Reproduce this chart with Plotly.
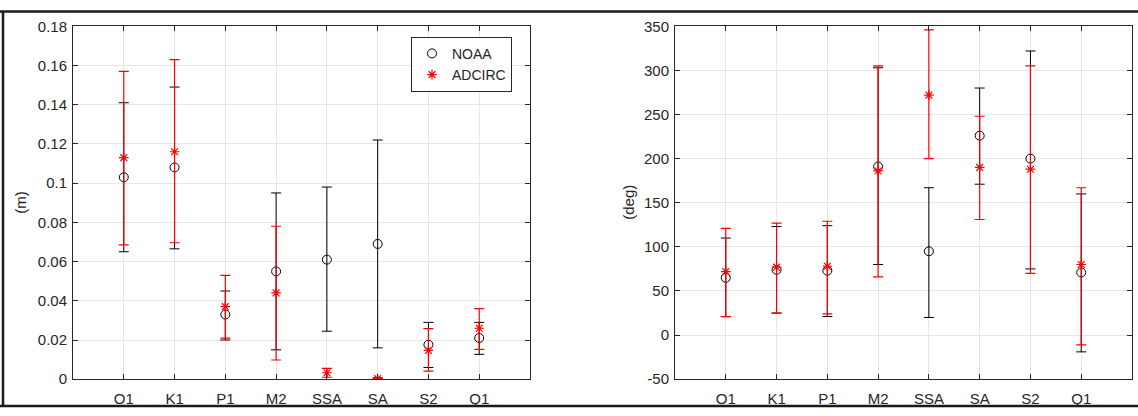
import plotly.graph_objects as go
from plotly.subplots import make_subplots

constituents = ["O1", "K1", "P1", "M2", "SSA", "SA", "S2", "Q1"]

# Amplitude (m)
noaa_amp = [0.103, 0.108, 0.033, 0.055, 0.061, 0.069, 0.0176, 0.021]
noaa_amp_hi = [0.141, 0.149, 0.045, 0.095, 0.098, 0.122, 0.029, 0.029]
noaa_amp_lo = [0.065, 0.0665, 0.020, 0.015, 0.0245, 0.016, 0.006, 0.0127]
adc_amp = [0.113, 0.116, 0.037, 0.044, 0.0033, 0.0003, 0.0147, 0.026]
adc_amp_hi = [0.157, 0.163, 0.053, 0.078, 0.0055, 0.0008, 0.0258, 0.036]
adc_amp_lo = [0.0685, 0.0696, 0.021, 0.0098, 0.0010, 0.0000, 0.0041, 0.0152]

# Phase (deg)
noaa_ph = [65, 74, 73, 191, 95, 226, 200, 71]
noaa_ph_hi = [110, 123, 124, 303, 167, 280, 322, 160]
noaa_ph_lo = [21, 25, 21, 80, 20, 171, 75, -19]
adc_ph = [72, 77, 78, 186, 272, 190, 188, 80]
adc_ph_hi = [121, 127, 129, 305, 346, 248, 305, 167]
adc_ph_lo = [21, 25, 24, 66, 200, 131, 70, -11]

amp_ticks = [0, 0.02, 0.04, 0.06, 0.08, 0.1, 0.12, 0.14, 0.16, 0.18]
amp_ticktext = ["0", "0.02", "0.04", "0.06", "0.08", "0.1", "0.12", "0.14", "0.16", "0.18"]
ph_ticks = [-50, 0, 50, 100, 150, 200, 250, 300, 350]
ph_ticktext = ["-50", "0", "50", "100", "150", "200", "250", "300", "350"]

W, H = 1138, 416
INK = "#262626"
RED = "#ff0000"
FONT = "Liberation Sans, Arial, sans-serif"
FS = 15

fig = make_subplots(rows=1, cols=2)


def add_pair(col, nv, nh, nl, av, ah, al, show):
    fig.add_trace(go.Scatter(
        x=constituents, y=nv, mode="markers", name="NOAA", showlegend=show,
        marker=dict(symbol="circle-open", size=9, color="black", line=dict(width=1, color="black")),
        error_y=dict(type="data", symmetric=False,
                     array=[h - v for h, v in zip(nh, nv)],
                     arrayminus=[v - l for v, l in zip(nv, nl)],
                     color="black", thickness=1, width=5),
    ), row=1, col=col)
    fig.add_trace(go.Scatter(
        x=constituents, y=av, mode="markers", name="ADCIRC", showlegend=show,
        marker=dict(symbol="asterisk-open", size=8, color=RED, line=dict(width=1.2, color=RED)),
        error_y=dict(type="data", symmetric=False,
                     array=[h - v for h, v in zip(ah, av)],
                     arrayminus=[v - l for v, l in zip(av, al)],
                     color=RED, thickness=1.2, width=5),
    ), row=1, col=col)


add_pair(1, noaa_amp, noaa_amp_hi, noaa_amp_lo, adc_amp, adc_amp_hi, adc_amp_lo, True)
add_pair(2, noaa_ph, noaa_ph_hi, noaa_ph_lo, adc_ph, adc_ph_hi, adc_ph_lo, False)

ydom = [1 - 386 / H, 1 - 18 / H]
axis_common = dict(showline=True, linecolor=INK, linewidth=1, mirror="ticks",
                   ticks="inside", ticklen=5, tickcolor=INK, tickwidth=1,
                   showgrid=True, gridcolor="#e6e6e6", gridwidth=1, zeroline=False,
                   tickfont=dict(family=FONT, size=FS, color=INK))

fig.update_layout(
    width=W, height=H, margin=dict(l=0, r=0, t=0, b=0),
    paper_bgcolor="white", plot_bgcolor="white",
    font=dict(family=FONT, size=FS, color=INK),
    xaxis=dict(domain=[73 / W, 530 / W], type="category", range=[-1, 8],
               ticklabelstandoff=6, **axis_common),
    xaxis2=dict(domain=[675 / W, 1132 / W], type="category", range=[-1, 8],
                ticklabelstandoff=6, **axis_common),
    yaxis=dict(domain=ydom, range=[0, 0.18], tickvals=amp_ticks, ticktext=amp_ticktext,
               ticklabelstandoff=2, **axis_common),
    yaxis2=dict(domain=ydom, range=[-50, 350], tickvals=ph_ticks, ticktext=ph_ticktext,
                ticklabelstandoff=2, **axis_common),
    legend=dict(x=411 / W, y=1 - 29 / H, xanchor="left", yanchor="top",
                bgcolor="white", bordercolor=INK, borderwidth=1,
                font=dict(family=FONT, size=14, color=INK),
                tracegroupgap=0, itemwidth=30),
    showlegend=True,
)

fig.add_annotation(x=21 / W, y=(ydom[0] + ydom[1]) / 2, xref="paper", yref="paper",
                   xanchor="center", yanchor="middle",
                   text="(m)", textangle=-90, showarrow=False,
                   font=dict(family=FONT, size=FS, color=INK))
fig.add_annotation(x=629 / W, y=(ydom[0] + ydom[1]) / 2, xref="paper", yref="paper",
                   xanchor="center", yanchor="middle",
                   text="(deg)", textangle=-90, showarrow=False,
                   font=dict(family=FONT, size=FS, color=INK))

# Outer frame (top, bottom, left edges only, as in the reference)
FRAME = dict(color="#1a1a1a", width=2.5)
fig.add_shape(type="line", xref="paper", yref="paper", x0=0, x1=1,
              y0=1 - 2.5 / H, y1=1 - 2.5 / H, line=FRAME, layer="above")
fig.add_shape(type="line", xref="paper", yref="paper", x0=0, x1=1,
              y0=1 - 414 / H, y1=1 - 414 / H, line=FRAME, layer="above")
fig.add_shape(type="line", xref="paper", yref="paper", x0=3 / W, x1=3 / W,
              y0=1 - 414 / H, y1=1 - 2.5 / H, line=FRAME, layer="above")

fig.write_html("out.html")
